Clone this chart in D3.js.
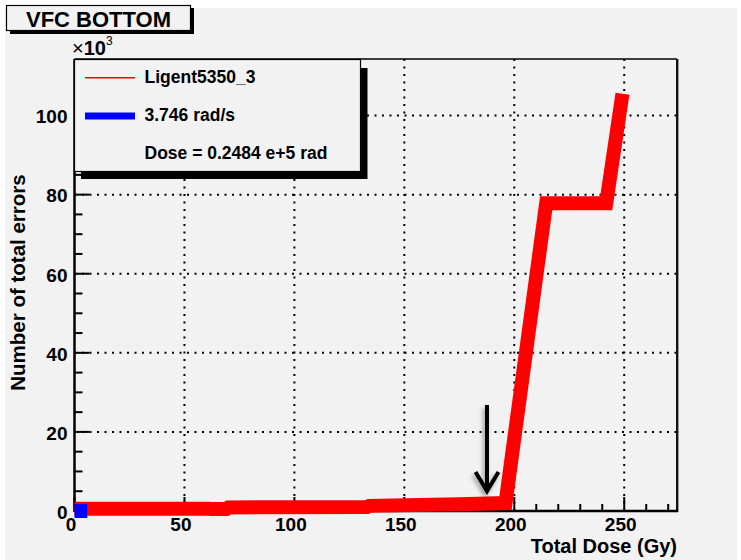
<!DOCTYPE html>
<html>
<head>
<meta charset="utf-8">
<script src="https://cdn.jsdelivr.net/npm/d3@7"></script>
<style>
  body { margin: 0; background: #fff; }
  text { font-family: "Liberation Sans", Arial, Helvetica, sans-serif; font-weight: bold; fill: #000; }
</style>
</head>
<body>
<div class="chart"></div>
<script>
// total dose (Gy) vs number of total errors (x10^3)
const redDose   = [0,   61,  62,  69,  70,  133, 134, 175, 196, 214.5, 241.8, 249.2];
const redErrors = [0.6, 0.6, 0.5, 0.5, 0.9, 1.0, 1.3, 1.7, 2.0, 77.8,  77.8,  105.5];

const blueDose   = [0, 5.8];
const blueErrors = [0, 0];

const xTicks      = [0, 50, 100, 150, 200, 250];
const xMinorTicks = d3.range(0, 271, 10);
const yTicks      = [0, 20, 40, 60, 80, 100];
const yMinorTicks = d3.range(0, 111, 5);

const legendLabels = ['Ligent5350_3', '3.746 rad/s', 'Dose = 0.2484 e+5 rad'];

// arrow marking the onset dose
const arrowDose = 187.6;
const arrowFrom = 26.8;
const arrowTo   = 4.8;

const width  = 741;
const height = 560;

const x = d3.scaleLinear().domain([0, 274]).range([74.5, 677]);
const y = d3.scaleLinear().domain([0, 114.3]).range([511, 59]);

function draw() {
  const svg = d3.select('.chart')
    .append('svg').attr('width', width).attr('height', height);

  const defs = svg.append('defs');
  defs.append('filter').attr('id', 'shadow')
    .attr('x', '-50%').attr('y', '-20%').attr('width', '200%').attr('height', '140%')
    .append('feDropShadow')
    .attr('dx', -2).attr('dy', 3).attr('stdDeviation', 2)
    .attr('flood-color', '#000').attr('flood-opacity', 0.35);

  // canvas
  svg.append('rect')
    .attr('x', 5).attr('y', 8).attr('width', 732).attr('height', 552)
    .style('fill', '#f2f2f2');

  // grid
  const grid = svg.append('g').style('stroke', '#000').style('stroke-width', 2)
    .style('stroke-dasharray', '2,5.5');
  grid.selectAll('.gx').data(xTicks.slice(1)).enter().append('line')
    .attr('x1', d => x(d)).attr('x2', d => x(d))
    .attr('y1', y.range()[0]).attr('y2', y.range()[1]);
  grid.selectAll('.gy').data(yTicks.slice(1)).enter().append('line')
    .attr('x1', x.range()[0]).attr('x2', x.range()[1])
    .attr('y1', d => y(d)).attr('y2', d => y(d));

  // ticks
  const ticks = svg.append('g').style('stroke', '#000').style('stroke-width', 2);
  ticks.selectAll('.xt').data(xMinorTicks).enter().append('line')
    .attr('x1', d => x(d)).attr('x2', d => x(d))
    .attr('y1', y(0)).attr('y2', d => y(0) - (d % 50 === 0 ? 14 : 7));
  ticks.selectAll('.yt').data(yMinorTicks).enter().append('line')
    .attr('x1', x(0)).attr('x2', d => x(0) + (d % 20 === 0 ? 15 : 8))
    .attr('y1', d => y(d)).attr('y2', d => y(d));

  // frame
  svg.append('line')
    .attr('x1', x.range()[0]).attr('x2', x.range()[1])
    .attr('y1', y.range()[1]).attr('y2', y.range()[1])
    .style('stroke', '#000').style('stroke-width', 1.5);
  svg.append('line')
    .attr('x1', x.range()[1] + 1.5).attr('x2', x.range()[1] + 1.5)
    .attr('y1', y.range()[1]).attr('y2', y.range()[0] + 1)
    .style('stroke', '#999').style('stroke-width', 1);
  svg.append('line')
    .attr('x1', x.range()[1]).attr('x2', x.range()[1])
    .attr('y1', y.range()[1]).attr('y2', y.range()[0] + 1)
    .style('stroke', '#111').style('stroke-width', 2);
  svg.append('line')
    .attr('x1', x.range()[0]).attr('x2', x.range()[0])
    .attr('y1', y.range()[1]).attr('y2', y.range()[0] + 1)
    .style('stroke', '#000').style('stroke-width', 2.5);
  svg.append('line')
    .attr('x1', x.range()[0]).attr('x2', x.range()[1] + 1)
    .attr('y1', y.range()[0]).attr('y2', y.range()[0])
    .style('stroke', '#000').style('stroke-width', 2.5);

  // series, drawn over the axes
  const line = d3.line().x(d => x(d[0])).y(d => y(d[1]));

  svg.append('path')
    .datum(d3.zip(redDose, redErrors))
    .attr('d', line)
    .style('fill', 'none')
    .style('stroke', '#ff0000')
    .style('stroke-width', 14)
    .style('stroke-linejoin', 'miter')
    .style('stroke-linecap', 'butt');

  svg.append('path')
    .datum(d3.zip(blueDose, blueErrors))
    .attr('d', line)
    .style('fill', 'none')
    .style('stroke', '#0000ff')
    .style('stroke-width', 14)
    .style('stroke-linecap', 'butt');

  // tick labels
  svg.selectAll('.xl').data(xTicks).enter().append('text')
    .attr('x', d => x(d) - 3.5)
    .attr('y', 530.5)
    .attr('text-anchor', 'middle')
    .style('font-size', '19px')
    .text(d => d);
  svg.selectAll('.yl').data(yTicks).enter().append('text')
    .attr('x', 67.5)
    .attr('y', d => y(d) + 1)
    .attr('dy', '0.36em')
    .attr('text-anchor', 'end')
    .style('font-size', '19px')
    .text(d => d);

  // exponent
  const expo = svg.append('text').attr('x', 72).attr('y', 55).style('font-size', '20px');
  expo.append('tspan').style('font-weight', 'normal').text('\u00d7');
  expo.append('tspan').text('10');
  expo.append('tspan').attr('dy', -10).style('font-size', '12px').style('font-weight', 'normal').text('3');

  // axis titles
  svg.append('text')
    .attr('x', x.range()[1]).attr('y', 553)
    .attr('text-anchor', 'end')
    .style('font-size', '20px')
    .text('Total Dose (Gy)');
  svg.append('text')
    .attr('transform', 'translate(25,282.5) rotate(-90)')
    .attr('text-anchor', 'middle')
    .style('font-size', '20.5px')
    .text('Number of total errors');

  // legend
  const lg = svg.append('g');
  lg.append('rect').attr('x', 81).attr('y', 68).attr('width', 286.5).attr('height', 111)
    .style('fill', '#000');
  lg.append('rect').attr('x', 74.5).attr('y', 59.5).attr('width', 286).attr('height', 112)
    .style('fill', '#f2f2f2').style('stroke', '#000').style('stroke-width', 1.2);
  lg.append('line').attr('x1', 85).attr('x2', 135).attr('y1', 77.7).attr('y2', 77.7)
    .style('stroke', '#ff0000').style('stroke-width', 1.5);
  lg.append('rect').attr('x', 85).attr('y', 112.5).attr('width', 50).attr('height', 7)
    .style('fill', '#0000ff');
  lg.selectAll('.lt').data(legendLabels).enter().append('text')
    .attr('x', 144.5)
    .attr('y', (d, i) => 82.5 + i * 38)
    .style('font-size', '17.5px')
    .text(d => d);

  // arrow
  const ar = svg.append('g')
    .style('stroke', '#000').style('stroke-width', 4).style('fill', 'none')
    .attr('filter', 'url(#shadow)');
  ar.append('line')
    .attr('x1', x(arrowDose)).attr('x2', x(arrowDose))
    .attr('y1', y(arrowFrom)).attr('y2', y(arrowTo) - 2);
  ar.append('path')
    .attr('d', `M${x(arrowDose) - 11.5},${y(arrowTo) - 20} L${x(arrowDose)},${y(arrowTo) - 1} L${x(arrowDose) + 11.5},${y(arrowTo) - 20}`)
    .style('stroke-linejoin', 'miter');

  // title box
  svg.append('rect').attr('x', 10).attr('y', 8).attr('width', 184).attr('height', 26)
    .style('fill', '#000');
  svg.append('rect').attr('x', 6.5).attr('y', 5.5).attr('width', 184).attr('height', 25)
    .style('fill', '#f2f2f2').style('stroke', '#000').style('stroke-width', 1.2);
  svg.append('text')
    .attr('x', 98.5).attr('y', 26.5)
    .attr('text-anchor', 'middle')
    .style('font-size', '22px')
    .text('VFC BOTTOM');
}

draw();
</script>
</body>
</html>
